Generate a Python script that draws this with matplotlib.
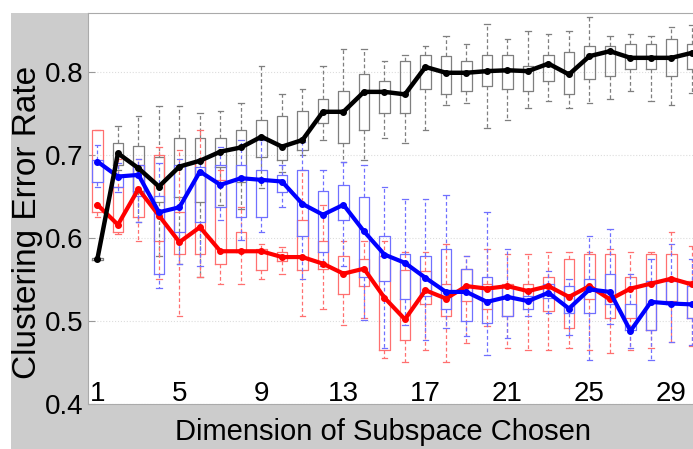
import matplotlib.pyplot as plt
from matplotlib.patches import Rectangle

dims = list(range(1, 31))
xticks = [1, 5, 9, 13, 17, 21, 25, 29]

# black series
black_mean = [0.575, 0.702, 0.684, 0.662, 0.686, 0.693, 0.704, 0.709, 0.722, 0.710,
              0.718, 0.752, 0.752, 0.776, 0.776, 0.773, 0.806, 0.799, 0.799, 0.801,
              0.802, 0.801, 0.810, 0.797, 0.819, 0.825, 0.817, 0.817, 0.817, 0.823]
black_q3 = [0.576, 0.715, 0.711, 0.697, 0.720, 0.720, 0.720, 0.730, 0.742, 0.747,
            0.753, 0.768, 0.777, 0.798, 0.789, 0.813, 0.821, 0.819, 0.813, 0.821,
            0.821, 0.807, 0.821, 0.824, 0.831, 0.831, 0.834, 0.834, 0.840, 0.834]
black_q1 = [0.574, 0.688, 0.657, 0.643, 0.649, 0.643, 0.685, 0.668, 0.697, 0.694,
            0.706, 0.738, 0.715, 0.730, 0.751, 0.751, 0.780, 0.774, 0.777, 0.783,
            0.780, 0.777, 0.789, 0.774, 0.792, 0.795, 0.804, 0.804, 0.795, 0.804]
black_hi = [0.576, 0.735, 0.747, 0.759, 0.759, 0.751, 0.753, 0.763, 0.807, 0.774,
            0.780, 0.807, 0.828, 0.828, 0.813, 0.821, 0.831, 0.843, 0.834, 0.858,
            0.840, 0.849, 0.846, 0.849, 0.866, 0.843, 0.846, 0.843, 0.854, 0.856]
black_lo = [0.574, 0.682, 0.619, 0.578, 0.569, 0.553, 0.640, 0.635, 0.660, 0.680,
            0.700, 0.718, 0.691, 0.694, 0.720, 0.715, 0.730, 0.760, 0.763, 0.732,
            0.742, 0.756, 0.765, 0.756, 0.763, 0.768, 0.777, 0.765, 0.760, 0.775]

# blue series
blue_mean = [0.692, 0.674, 0.676, 0.631, 0.637, 0.680, 0.664, 0.672, 0.670, 0.668,
             0.641, 0.628, 0.640, 0.608, 0.580, 0.570, 0.552, 0.535, 0.535, 0.523,
             0.529, 0.524, 0.534, 0.515, 0.538, 0.535, 0.488, 0.523, 0.521, 0.520]
blue_q3 = [0.694, 0.676, 0.688, 0.650, 0.688, 0.685, 0.688, 0.688, 0.682, 0.676,
           0.682, 0.657, 0.664, 0.649, 0.602, 0.581, 0.578, 0.587, 0.563, 0.553,
           0.542, 0.530, 0.545, 0.542, 0.551, 0.557, 0.521, 0.548, 0.548, 0.542]
blue_q1 = [0.667, 0.661, 0.651, 0.557, 0.607, 0.619, 0.637, 0.625, 0.625, 0.655,
           0.602, 0.583, 0.622, 0.553, 0.548, 0.527, 0.530, 0.515, 0.500, 0.498,
           0.506, 0.515, 0.528, 0.510, 0.510, 0.521, 0.489, 0.489, 0.521, 0.504]
blue_hi = [0.712, 0.690, 0.695, 0.690, 0.695, 0.695, 0.709, 0.718, 0.718, 0.688,
           0.716, 0.682, 0.691, 0.688, 0.661, 0.647, 0.647, 0.652, 0.578, 0.631,
           0.587, 0.535, 0.560, 0.551, 0.602, 0.611, 0.557, 0.575, 0.593, 0.575]
blue_lo = [0.662, 0.655, 0.619, 0.540, 0.569, 0.566, 0.622, 0.598, 0.607, 0.637,
           0.550, 0.566, 0.566, 0.501, 0.467, 0.495, 0.477, 0.492, 0.482, 0.459,
           0.480, 0.506, 0.510, 0.483, 0.453, 0.496, 0.468, 0.453, 0.475, 0.471]

# red series
red_mean = [0.640, 0.616, 0.659, 0.627, 0.595, 0.613, 0.584, 0.584, 0.584, 0.577,
            0.577, 0.569, 0.557, 0.563, 0.528, 0.502, 0.537, 0.527, 0.542, 0.539,
            0.542, 0.536, 0.542, 0.529, 0.542, 0.526, 0.539, 0.545, 0.551, 0.544]
red_q3 = [0.730, 0.662, 0.688, 0.700, 0.631, 0.694, 0.670, 0.607, 0.587, 0.583,
          0.622, 0.596, 0.578, 0.575, 0.578, 0.562, 0.560, 0.545, 0.563, 0.545,
          0.545, 0.545, 0.553, 0.575, 0.581, 0.581, 0.553, 0.581, 0.581, 0.548]
red_q1 = [0.631, 0.607, 0.625, 0.596, 0.581, 0.581, 0.569, 0.583, 0.562, 0.572,
          0.562, 0.563, 0.533, 0.542, 0.465, 0.477, 0.521, 0.506, 0.524, 0.515,
          0.506, 0.524, 0.512, 0.492, 0.527, 0.504, 0.504, 0.489, 0.524, 0.504]
red_hi = [0.730, 0.695, 0.695, 0.709, 0.706, 0.730, 0.682, 0.637, 0.593, 0.589,
          0.682, 0.640, 0.596, 0.596, 0.596, 0.583, 0.583, 0.593, 0.578, 0.587,
          0.581, 0.581, 0.583, 0.583, 0.583, 0.587, 0.583, 0.583, 0.607, 0.590]
red_lo = [0.625, 0.605, 0.596, 0.551, 0.506, 0.553, 0.545, 0.545, 0.551, 0.557,
          0.506, 0.515, 0.495, 0.504, 0.455, 0.450, 0.465, 0.450, 0.473, 0.494,
          0.467, 0.465, 0.465, 0.468, 0.465, 0.461, 0.465, 0.468, 0.475, 0.470]

plt.rcParams['font.family'] = ['Liberation Sans', 'DejaVu Sans']

fig = plt.figure(figsize=(6.93, 4.49), dpi=100, facecolor='white')
fig.patches.append(Rectangle((11 / 693, 0), 1, (449 - 13) / 449, transform=fig.transFigure,
                             facecolor='#cccccc', edgecolor='none', zorder=-1))
ax = fig.add_axes([88 / 693, 45 / 449, 605 / 693, 391 / 449])
ax.set_facecolor('white')


def draw_boxes(mean, q1, q3, lo, hi, color):
    stats = []
    for m, a, b, l, h in zip(mean, q1, q3, lo, hi):
        stats.append(dict(med=m, q1=a, q3=b, whislo=l, whishi=h))
    ax.bxp(stats, positions=dims, widths=0.52, showfliers=False, manage_ticks=False,
           boxprops=dict(color=color, linewidth=0.9),
           whiskerprops=dict(color=color, linewidth=0.9, linestyle=(0, (3, 2))),
           capprops=dict(color=color, linewidth=0.9),
           medianprops=dict(linewidth=0))


draw_boxes(black_mean, black_q1, black_q3, black_lo, black_hi, '#7f7f7f')
draw_boxes(red_mean, red_q1, red_q3, red_lo, red_hi, '#ff7070')
draw_boxes(blue_mean, blue_q1, blue_q3, blue_lo, blue_hi, '#7070ff')

ax.plot(dims, red_mean, color='#ff0000', linewidth=3, marker='o', markersize=4, zorder=5)
ax.plot(dims, blue_mean, color='#0000ff', linewidth=3, marker='o', markersize=4, zorder=6)
ax.plot(dims, black_mean, color='black', linewidth=3.2, marker='o', markersize=4, zorder=7)

ax.set_xlim(0.54, 30.05)
ax.set_ylim(0.4, 0.871)
ax.set_yticks([0.4, 0.5, 0.6, 0.7, 0.8])
ax.set_yticklabels(['0.4', '0.5', '0.6', '0.7', '0.8'])
ax.set_xticks(xticks)
ax.set_xticklabels([str(t) for t in xticks])
# tick labels sit inside the plot, just above the bottom edge
ax.tick_params(axis='x', length=0, pad=-2, labelsize=20)
ax.tick_params(axis='y', direction='in', length=5, color='#999999', labelsize=20, pad=3)
for lab in ax.get_xticklabels():
    lab.set_verticalalignment('baseline')
ax.grid(axis='y', color='#dddddd', linestyle=':', linewidth=0.8)
ax.set_axisbelow(True)

for side in ['left', 'top', 'bottom']:
    ax.spines[side].set_color('#aaaaaa')
ax.spines['right'].set_visible(False)

ax.set_ylabel('Clustering Error Rate', fontsize=24)
ax.yaxis.set_label_coords(-0.075, 0.465)
ax.set_xlabel('Dimension of Subspace Chosen', fontsize=21)
ax.xaxis.set_label_coords(0.4876, -0.035)

fig.savefig('out.png', dpi=100, facecolor=fig.get_facecolor())
